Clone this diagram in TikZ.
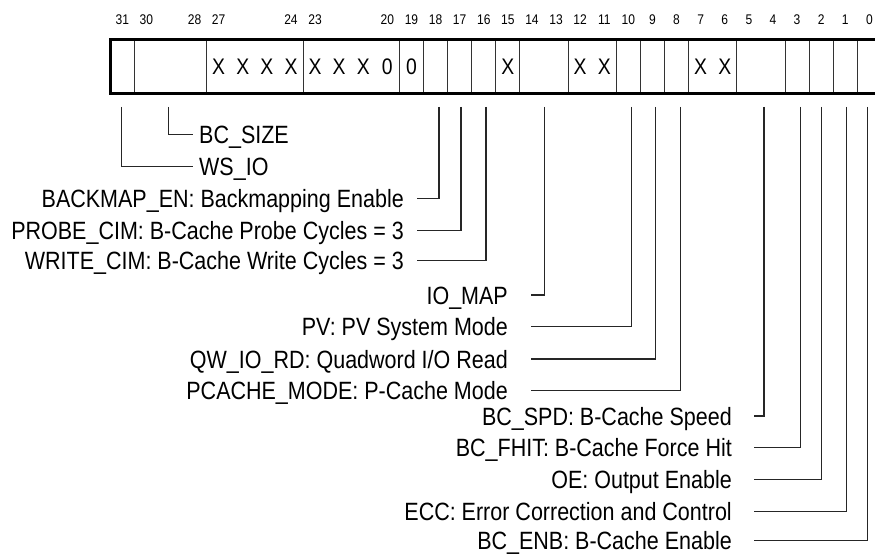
\documentclass[tikz,border=0pt]{standalone}
\usepackage{fontspec}
\setmainfont{Liberation Sans}[FakeStretch=0.86]
\begin{document}
\begin{tikzpicture}[x=1pt,y=-1pt,
  lbl/.style={inner sep=0pt, font=\fontsize{25}{27}\selectfont},
  bitnum/.style={inner sep=0pt, font=\fontsize{14}{15}\selectfont, anchor=base},
  cell/.style={inner sep=0pt, font=\fontsize{22.5}{24}\selectfont, anchor=base},
  conn/.style={line width=1.1pt, draw=black!85},
  divider/.style={line width=0.9pt, draw=black!80}]
\useasboundingbox (0,0) rectangle (875,556);
\fill[white] (0,0) rectangle (875,556);
% register
\foreach \k in {1,4,8,12,13,14,15,16,17,19,21,22,23,24,26,28,29,30,31}
  \draw[divider] ({110.2+\k*24.1},40) -- ({110.2+\k*24.1},93.3);
\draw[line width=3pt] (110.2,40) rectangle (881.4,93.3);
% bit numbers
\foreach \n in {31,30,28,27,24,23,20,19,18,17,16,15,14,13,12,11,10,9,8,7,6,5,4,3,2,1,0}
  \node[bitnum] (n\n) at ({110.2+(31.5-\n)*24.1},25) {\n};
% cell contents
\foreach \n/\t in {27/X,26/X,25/X,24/X,23/X,22/X,21/X,20/0,19/0,15/X,12/X,11/X,7/X,6/X}
  \node[cell] (c\n) at ({110.2+(31.5-\n)*24.1},74.8) {\t};
% field tap points
\coordinate (b31) at (121.7,107);
\coordinate (b30) at (168.3,107);
\coordinate (b18) at (439,107);
\coordinate (b17) at (461,107);
\coordinate (b16) at (486,107);
\coordinate (b14) at (544.3,107);
\coordinate (b10) at (631.5,107);
\coordinate (b9)  at (655.8,107);
\coordinate (b8)  at (680.7,107);
\coordinate (b5)  at (764,107);
\coordinate (b3)  at (800.3,107);
\coordinate (b2)  at (821.7,107);
\coordinate (b1)  at (846.7,107);
\coordinate (b0)  at (867.7,107);
% labels (baseline = line y + 9)
\node[lbl, anchor=base west] (bcsize) at (199,143.3) {BC\_SIZE};
\node[lbl, anchor=base west] (wsio)   at (199,175.7) {WS\_IO};
\node[lbl, anchor=base east] (bm)   at (404,207.7) {BACKMAP\_EN: Backmapping Enable};
\node[lbl, anchor=base east] (pc)   at (404,239.7) {PROBE\_CIM: B-Cache Probe Cycles = 3};
\node[lbl, anchor=base east] (wc)   at (404,269.7) {WRITE\_CIM: B-Cache Write Cycles = 3};
\node[lbl, anchor=base east] (iom)  at (508,304) {IO\_MAP};
\node[lbl, anchor=base east] (pv)   at (508,335.7) {PV: PV System Mode};
\node[lbl, anchor=base east] (qw)   at (508,368) {QW\_IO\_RD: Quadword I/O Read};
\node[lbl, anchor=base east] (pcm)  at (508,399.7) {PCACHE\_MODE: P-Cache Mode};
\node[lbl, anchor=base east] (spd)  at (732,425) {BC\_SPD: B-Cache Speed};
\node[lbl, anchor=base east] (fhit) at (732,456.3) {BC\_FHIT: B-Cache Force Hit};
\node[lbl, anchor=base east] (oe)   at (732,488.3) {OE: Output Enable};
\node[lbl, anchor=base east] (ecc)  at (732,520.7) {ECC: Error Correction and Control};
\node[lbl, anchor=base east] (enb)  at (732,549.7) {BC\_ENB: B-Cache Enable};
% connector free ends
\coordinate (ebcsize) at (192.7,134.3);
\coordinate (ewsio)   at (192.7,166.7);
\coordinate (ebm)   at (416.7,198.7);
\coordinate (epc)   at (416.7,230.7);
\coordinate (ewc)   at (416.7,260.7);
\coordinate (eiom)  at (530.7,295);
\coordinate (epv)   at (530.7,326.7);
\coordinate (eqw)   at (530.7,359);
\coordinate (epcm)  at (530.7,390.7);
\coordinate (espd)  at (754,416);
\coordinate (efhit) at (754,447.3);
\coordinate (eoe)   at (754,479.3);
\coordinate (eecc)  at (754,511.7);
\coordinate (eenb)  at (754,540.7);
% connectors
\draw[conn] (b30) |- (ebcsize);
\draw[conn] (b31) |- (ewsio);
\draw[conn] (b18) |- (ebm);
\draw[conn] (b17) |- (epc);
\draw[conn] (b16) |- (ewc);
\draw[conn] (b14) |- (eiom);
\draw[conn] (b10) |- (epv);
\draw[conn] (b9)  |- (eqw);
\draw[conn] (b8)  |- (epcm);
\draw[conn] (b5)  |- (espd);
\draw[conn] (b3)  |- (efhit);
\draw[conn] (b2)  |- (eoe);
\draw[conn] (b1)  |- (eecc);
\draw[conn] (b0)  |- (eenb);
\end{tikzpicture}
\end{document}
